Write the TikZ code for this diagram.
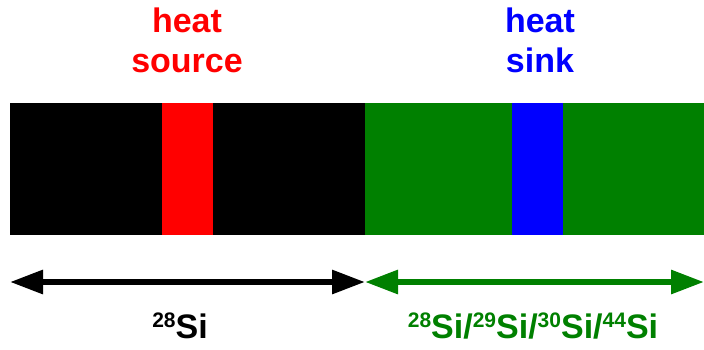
\documentclass[tikz,border=0pt]{standalone}
\usepackage{fontspec}
\setmainfont{Liberation Sans}
\usetikzlibrary{arrows.meta}
\definecolor{srcred}{HTML}{FF0000}
\definecolor{sinkblue}{HTML}{0000FF}
\definecolor{sigreen}{HTML}{008000}
\newcommand{\iso}[1]{\raisebox{11pt}{\fontsize{21}{21}\selectfont #1}}
\tikzset{
  seg/.style={draw=none, inner sep=0pt, outer sep=0pt, anchor=north west},
  lbl/.style={font=\fontsize{34}{40}\bfseries\selectfont, inner sep=0pt, anchor=base},
  span/.style={line width=6pt, {Triangle[length=33pt,width=23pt]}-{Triangle[length=33pt,width=23pt]}}
}
\begin{document}
\begin{tikzpicture}[x=1pt,y=-1pt]
  \useasboundingbox (0,0) rectangle (704,349);
  % slab segments
  \node[seg, fill=black, minimum width=355pt, minimum height=132pt] (left) at (10,103) {};
  \node[seg, fill=sigreen, minimum width=339pt, minimum height=132pt] (right) at (365,103) {};
  \node[seg, fill=srcred, minimum width=51pt, minimum height=132pt] (source) at (162,103) {};
  \node[seg, fill=sinkblue, minimum width=51pt, minimum height=132pt] (sink) at (512,103) {};
  % labels above
  \node[lbl, text=srcred] (heatA) at (187,32) {heat};
  \node[lbl, text=srcred] (srcT) at (187,72) {source};
  \node[lbl, text=sinkblue] (heatB) at (540,32) {heat};
  \node[lbl, text=sinkblue] (sinkT) at (540,72) {sink};
  % extent arrows
  \coordinate (aL) at (10,282);
  \coordinate (aM) at (365,282);
  \coordinate (aR) at (704,282);
  \draw[span, black] (aL) -- (aM);
  \draw[span, sigreen] (aM) -- (aR);
  % isotope labels
  \node[lbl, text=black] (si28) at (180,338) {\iso{28}Si};
  \node[lbl, text=sigreen] (mix) at (533,338) {\iso{28}Si/\iso{29}Si/\iso{30}Si/\iso{44}Si};
\end{tikzpicture}
\end{document}
